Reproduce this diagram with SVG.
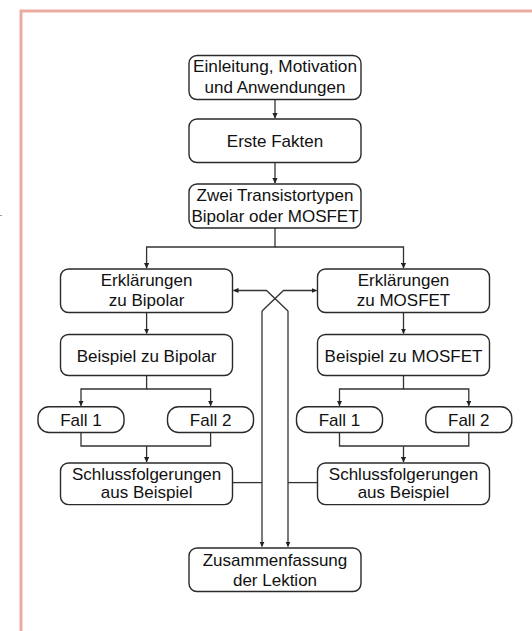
<svg xmlns="http://www.w3.org/2000/svg" width="532" height="631" viewBox="0 0 532 631">
<defs>
<style>
.box{fill:#fff;stroke:#2a2a2a;stroke-width:1.4}
.t{font-family:"Liberation Sans",Arial,sans-serif;font-size:17px;fill:#111;text-anchor:middle}
.c{fill:none;stroke:#333;stroke-width:1.3}
.a{marker-end:url(#ah)}
</style>
<marker id="ah" markerWidth="6" markerHeight="6" refX="5" refY="3" orient="auto" markerUnits="userSpaceOnUse"><path d="M0,0.4 L5.5,3 L0,5.6 z" fill="#222"/></marker>
</defs>
<rect width="532" height="631" fill="#fff"/>
<rect x="21" y="11" width="540" height="640" fill="none" stroke="#e9aba2" stroke-width="3"/>
<line x1="0" y1="215.5" x2="2" y2="215.5" stroke="#999" stroke-width="1"/>

<g id="connectors">
<path class="c a" d="M275,99.5 V118"/>
<path class="c a" d="M275,162.5 V183"/>
<path class="c a" d="M275,228 V247 H146.6 V268"/>
<path class="c a" d="M275,247 H403.5 V268"/>
<path class="c a" d="M146.6,312.5 V333.5"/>
<path class="c a" d="M403.5,312.5 V333.5"/>
<path class="c a" d="M146.6,375.5 V389 H81 V405.7"/>
<path class="c a" d="M146.6,389 H210.6 V405.7"/>
<path class="c a" d="M403.5,375.5 V389 H339.5 V405.7"/>
<path class="c a" d="M403.5,389 H468.8 V405.7"/>
<path class="c" d="M81,432.5 V446 H210.6 V432.5"/>
<path class="c a" d="M146.6,446 V462"/>
<path class="c" d="M339.5,432.5 V446 H468.8 V432.5"/>
<path class="c a" d="M403.5,446 V462"/>
<path class="c" d="M232.5,482.6 H262"/>
<path class="c" d="M317.5,482.6 H288"/>
<path class="c a" d="M262,311 V546.5"/>
<path class="c a" d="M288,311 V546.5"/>
<path class="c a" d="M262,311 L283.5,290.5 H316.5"/>
<path class="c a" d="M288,311 L266.5,290.5 H233.5"/>
</g>

<g id="n1"><rect class="box" x="189" y="55.5" width="172" height="44" rx="8"/><text class="t" x="275" y="72" textLength="164" lengthAdjust="spacingAndGlyphs">Einleitung, Motivation</text><text class="t" x="275" y="93">und Anwendungen</text></g>
<g id="n2"><rect class="box" x="189" y="119" width="172" height="43.5" rx="8"/><text class="t" x="275" y="146.5">Erste Fakten</text></g>
<g id="n3"><rect class="box" x="189" y="184" width="172" height="44" rx="8"/><text class="t" x="275" y="200.5">Zwei Transistortypen</text><text class="t" x="275" y="221.5">Bipolar oder MOSFET</text></g>
<g id="n4"><rect class="box" x="60.5" y="269" width="172" height="43.5" rx="8"/><text class="t" x="146.6" y="286">Erklärungen</text><text class="t" x="146.6" y="306">zu Bipolar</text></g>
<g id="n5"><rect class="box" x="317.5" y="269" width="172" height="43.5" rx="8"/><text class="t" x="403.5" y="286">Erklärungen</text><text class="t" x="403.5" y="306">zu MOSFET</text></g>
<g id="n6"><rect class="box" x="60.5" y="334.5" width="172" height="41" rx="8"/><text class="t" x="146.6" y="361.5">Beispiel zu Bipolar</text></g>
<g id="n7"><rect class="box" x="317.5" y="334.5" width="172" height="41" rx="8"/><text class="t" x="403.5" y="361.5">Beispiel zu MOSFET</text></g>
<g id="n8"><rect class="box" x="38" y="406.7" width="86" height="25.8" rx="11"/><text class="t" x="81" y="425.5">Fall 1</text></g>
<g id="n9"><rect class="box" x="167.5" y="406.7" width="86" height="25.8" rx="11"/><text class="t" x="210.6" y="425.5">Fall 2</text></g>
<g id="n10"><rect class="box" x="296.5" y="406.7" width="86" height="25.8" rx="11"/><text class="t" x="339.5" y="425.5">Fall 1</text></g>
<g id="n11"><rect class="box" x="425.8" y="406.7" width="86" height="25.8" rx="11"/><text class="t" x="468.8" y="425.5">Fall 2</text></g>
<g id="n12"><rect class="box" x="60.5" y="463" width="172" height="41.6" rx="8"/><text class="t" x="146.6" y="479.5">Schlussfolgerungen</text><text class="t" x="146.6" y="498">aus Beispiel</text></g>
<g id="n13"><rect class="box" x="317.5" y="463" width="172" height="41.6" rx="8"/><text class="t" x="403.5" y="479.5">Schlussfolgerungen</text><text class="t" x="403.5" y="498">aus Beispiel</text></g>
<g id="n14"><rect class="box" x="189" y="548" width="172" height="43.5" rx="8"/><text class="t" x="275" y="566">Zusammenfassung</text><text class="t" x="275" y="586">der Lektion</text></g>
</svg>
